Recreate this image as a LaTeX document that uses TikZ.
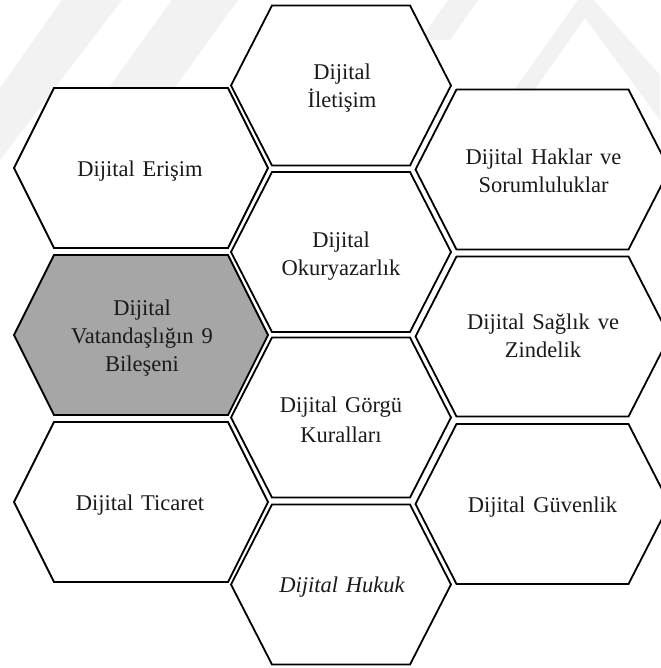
\documentclass[tikz,border=0pt]{standalone}
\usepackage{fontspec}
\setmainfont{Liberation Serif}[WordSpace=1.4]
\definecolor{cellgray}{HTML}{A6A6A6}
\definecolor{inkcol}{HTML}{1A1A1A}
\definecolor{markcol}{HTML}{F2F2F2}

% flat-topped hexagon: centre (#1,#2), half width #3, half top edge #4
\newcommand\hexcell[5]{%
  \path[#5] (#1-#3,#2) -- (#1-#4,#2-80) -- (#1+#4,#2-80) -- (#1+#3,#2)
    -- (#1+#4,#2+80) -- (#1-#4,#2+80) -- cycle;}

\tikzset{
  cell/.style={draw=black, line width=1.8pt, fill=white, line join=miter},
  keycell/.style={cell, fill=cellgray},
  label/.style={anchor=base, align=center, text=inkcol,
    font=\fontsize{22.5}{28}\selectfont, inner sep=0pt},
}

\begin{document}
\begin{tikzpicture}[x=1pt, y=-1pt]
\useasboundingbox (0,0) rectangle (660,668);
\fill[white] (0,0) rectangle (660,668);

% faint background bands
\fill[markcol] (0,160) -- (0,88) -- (62,0) -- (122,0) -- cycle;
\fill[markcol] (172,0) -- (238,0) -- (108,180) -- (42,180) -- cycle;
\fill[markcol] (420,40) -- (448,0) -- (478,0) -- (450,40) -- cycle;
\fill[markcol] (520,110) -- (585,18) -- (660,120) -- (660,75) -- (585,-10) -- (500,110) -- cycle;

% left column
\hexcell{141}{168}{127}{87}{cell}
\hexcell{141}{335}{127}{87}{keycell}
\hexcell{141}{502}{127}{87}{cell}
% middle column
\hexcell{341}{85.5}{110}{69}{cell}
\hexcell{341}{252}{110}{69}{cell}
\hexcell{341}{417.5}{110}{69}{cell}
\hexcell{341}{584.5}{110}{69}{cell}
% right column
\hexcell{542.5}{169.5}{127}{86}{cell}
\hexcell{542.5}{336.5}{127}{86}{cell}
\hexcell{542.5}{504}{127}{86}{cell}

% labels (base anchor sits on the last line)
\node[label] (erisim)    at (140,177)   {Dijital Erişim};
\node[label] (bilesen)   at (142,371)   {Dijital\\Vatandaşlığın 9\\Bileşeni};
\node[label] (ticaret)   at (140,510)   {Dijital Ticaret};
\node[label] (iletisim)  at (342,108)   {Dijital\\İletişim};
\node[label] (okuryazar) at (341,275)   {Dijital\\Okuryazarlık};
\node[label] (gorgu)     at (341,442)   {Dijital Görgü\\[2pt]Kuralları};
\node[label, font=\fontsize{22.5}{28}\selectfont\itshape]
             (hukuk)     at (342,592)   {Dijital Hukuk};
\node[label] (haklar)    at (543.5,193) {Dijital Haklar ve\\Sorumluluklar};
\node[label] (saglik)    at (543,357)   {Dijital Sağlık ve\\Zindelik};
\node[label] (guvenlik)  at (542.5,512) {Dijital Güvenlik};
\end{tikzpicture}
\end{document}
